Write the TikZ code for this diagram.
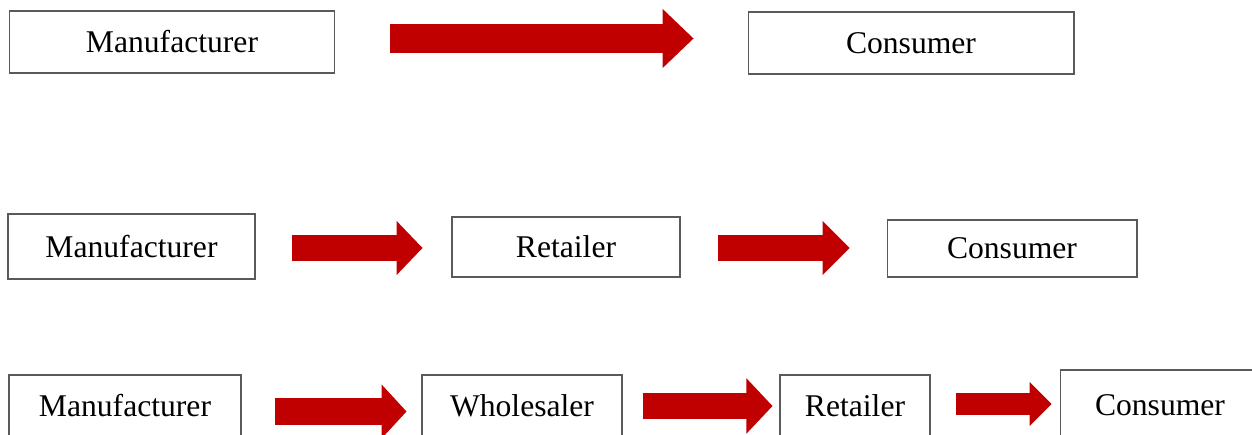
\documentclass[tikz,border=0pt]{standalone}
\usepackage{fontspec}
\setmainfont{Liberation Serif}
\usetikzlibrary{arrows.meta}

\definecolor{boxgray}{RGB}{90,90,90}
\definecolor{flowred}{RGB}{192,0,0}

\tikzset{
  stage/.style={draw=boxgray, line width=0.6pt, rectangle, inner sep=0pt,
    font=\fontsize{18}{21}\selectfont},
  flow/.style n args={3}{draw=flowred, line width=#1,
    -{Triangle[width=#2, length=#3, line width=0.8pt, flowred]}}
}

\begin{document}
\begin{tikzpicture}[x=0.02cm, y=-0.02cm]
            \clip (0, 0) rectangle (1252, 435);
            \node[stage, minimum width=6.52cm, minimum height=1.24cm] (m1) at (172, 42) {Manufacturer};
            \node[stage, minimum width=6.52cm, minimum height=1.24cm] (c1) at (911, 43) {Consumer};
            \node[stage, minimum width=4.94cm, minimum height=1.30cm] (m2) at (131.5, 246.5) {Manufacturer};
            \node[stage, minimum width=4.56cm, minimum height=1.20cm] (r2) at (566, 247) {Retailer};
            \node[stage, minimum width=5.00cm, minimum height=1.14cm] (c2) at (1012, 248.5) {Consumer};
            \node[stage, minimum width=4.64cm, minimum height=1.24cm] (m3) at (125, 406) {Manufacturer};
            \node[stage, minimum width=4.00cm, minimum height=1.24cm] (w3) at (522, 406) {Wholesaler};
            \node[stage, minimum width=3.00cm, minimum height=1.24cm] (r3) at (855, 406) {Retailer};
            \node[stage, minimum width=4.00cm, minimum height=1.40cm] (c3) at (1160, 405) {Consumer};
            \draw[flow={0.58cm}{1.18cm}{0.62cm}, shorten <=1.1cm, shorten >=1.08cm,
              transform canvas={yshift=0.07cm}] (m1.east) -- (m1.east -| c1.west);
            \draw[flow={0.52cm}{1.08cm}{0.52cm}, shorten <=0.74cm, shorten >=0.58cm,
              transform canvas={yshift=-0.03cm}] (m2.east) -- (m2.east -| r2.west);
            \draw[flow={0.52cm}{1.08cm}{0.54cm}, shorten <=0.74cm, shorten >=0.74cm,
              transform canvas={yshift=-0.02cm}] (r2.east) -- (r2.east -| c2.west);
            \draw[flow={0.54cm}{1.08cm}{0.50cm}, shorten <=0.68cm, shorten >=0.30cm,
              transform canvas={yshift=-0.11cm}] (m3.east) -- (m3.east -| w3.west);
            \draw[flow={0.52cm}{1.10cm}{0.52cm}, shorten <=0.40cm, shorten >=0.14cm] (w3.east) -- (w3.east -| r3.west);
            \draw[flow={0.46cm}{0.88cm}{0.44cm}, shorten <=0.50cm, shorten >=0.16cm,
              transform canvas={yshift=0.04cm}] (r3.east) -- (r3.east -| c3.west);
        \end{tikzpicture}
\end{document}
